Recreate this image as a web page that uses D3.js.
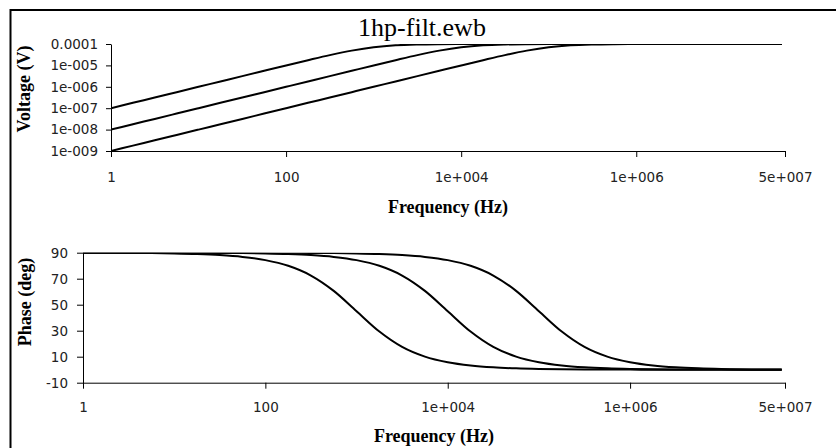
<!DOCTYPE html>
<html>
<head>
<meta charset="utf-8">
<script src="https://cdn.jsdelivr.net/npm/d3@7"></script>
<style>
  html, body { margin: 0; padding: 0; background: #fff; }
  svg { display: block; }
  .tick text { font-family: 'DejaVu Sans', sans-serif; font-size: 13.5px; fill: #222; }
  .axis-title { font-family: 'Liberation Serif', 'Times New Roman', serif; font-size: 18px; font-weight: bold; fill: #000; }
</style>
</head>
<body>
<svg id="chart" width="836" height="448"></svg>
<script>
// sample frequencies (Hz)
const frequencies = [
  1, 1.78, 3.16, 5.62, 10, 17.8, 31.6, 56.2, 100, 178, 316, 562, 1000, 1780, 3160, 5620,
  1e4, 1.78e4, 3.16e4, 5.62e4, 1e5, 1.78e5, 3.16e5, 5.62e5, 1e6, 1.78e6, 3.16e6, 5.62e6, 1e7, 4.6e7
];

// output voltage (V), three filters
const voltageA = [
  1e-7, 1.78e-7, 3.16e-7, 5.62e-7, 1e-6, 1.78e-6, 3.16e-6, 5.61e-6, 9.95e-6, 1.75e-5, 3.02e-5, 4.90e-5,
  7.07e-5, 8.72e-5, 9.53e-5, 9.85e-5, 9.95e-5, 9.98e-5, 1e-4, 1e-4, 1e-4, 1e-4, 1e-4, 1e-4,
  1e-4, 1e-4, 1e-4, 1e-4, 1e-4, 1e-4
];
const voltageB = [
  1e-8, 1.78e-8, 3.16e-8, 5.62e-8, 1e-7, 1.78e-7, 3.16e-7, 5.62e-7, 1e-6, 1.78e-6, 3.16e-6, 5.61e-6,
  9.95e-6, 1.75e-5, 3.02e-5, 4.90e-5, 7.07e-5, 8.72e-5, 9.53e-5, 9.85e-5, 9.95e-5, 9.98e-5, 1e-4, 1e-4,
  1e-4, 1e-4, 1e-4, 1e-4, 1e-4, 1e-4
];
const voltageC = [
  1e-9, 1.78e-9, 3.16e-9, 5.62e-9, 1e-8, 1.78e-8, 3.16e-8, 5.62e-8, 1e-7, 1.78e-7, 3.16e-7, 5.62e-7,
  1e-6, 1.78e-6, 3.16e-6, 5.61e-6, 9.95e-6, 1.75e-5, 3.02e-5, 4.90e-5, 7.07e-5, 8.72e-5, 9.53e-5, 9.85e-5,
  9.95e-5, 9.98e-5, 1e-4, 1e-4, 1e-4, 1e-4
];

// phase (deg)
const phaseA = [
  89.94, 89.90, 89.82, 89.68, 89.43, 88.98, 88.19, 86.78, 84.29, 79.92, 72.45, 60.64,
  45.0, 29.36, 17.55, 10.08, 5.71, 3.22, 1.81, 1.02, 0.57, 0.32, 0.18, 0.10,
  0.06, 0.03, 0.02, 0.01, 0.01, 0.0
];
const phaseB = [
  89.99, 89.99, 89.98, 89.97, 89.94, 89.90, 89.82, 89.68, 89.43, 88.98, 88.19, 86.78,
  84.29, 79.92, 72.45, 60.64, 45.0, 29.36, 17.55, 10.08, 5.71, 3.22, 1.81, 1.02,
  0.57, 0.32, 0.18, 0.10, 0.06, 0.01
];
const phaseC = [
  90.0, 90.0, 90.0, 90.0, 89.99, 89.99, 89.98, 89.97, 89.94, 89.90, 89.82, 89.68,
  89.43, 88.98, 88.19, 86.78, 84.29, 79.92, 72.45, 60.64, 45.0, 29.36, 17.55, 10.08,
  5.71, 3.22, 1.81, 1.02, 0.57, 0.12
];

// tick values + labels
const freqTicks = [1, 100, 1e4, 1e6, 5e7];
const freqTickLabels = ['1', '100', '1e+004', '1e+006', '5e+007'];
const voltTicks = [1e-4, 1e-5, 1e-6, 1e-7, 1e-8, 1e-9];
const voltTickLabels = ['0.0001', '1e-005', '1e-006', '1e-007', '1e-008', '1e-009'];
const phaseTicks = [90, 70, 50, 30, 10, -10];

const svg = d3.select('#chart');

// outer frame (only top/left edges visible)
svg.append('rect')
  .attr('x', 10.5).attr('y', 10)
  .attr('width', 900).attr('height', 500)
  .attr('fill', 'none').attr('stroke', '#000').attr('stroke-width', 2);

svg.append('text')
  .attr('x', 422).attr('y', 36)
  .attr('text-anchor', 'middle')
  .attr('font-family', "'Liberation Serif', 'Times New Roman', serif")
  .attr('font-size', 26)
  .text('1hp-filt.ewb');

function drawPanel(cfg) {
  const x = d3.scaleLog().domain([1, 5e7]).range([cfg.left, 785]);
  const y = cfg.y;

  const clipId = 'clip-' + cfg.id;
  svg.append('clipPath').attr('id', clipId)
    .append('rect')
    .attr('x', cfg.left).attr('y', y.range()[1])
    .attr('width', 785 - cfg.left + 4).attr('height', y.range()[0] - y.range()[1] + 4);

  const xAxis = svg.append('g')
    .attr('transform', `translate(0,${y.range()[0]})`)
    .call(d3.axisBottom(x)
      .tickValues(freqTicks)
      .tickFormat((d, i) => freqTickLabels[i])
      .tickSize(6).tickSizeOuter(0)
      .tickPadding(cfg.xPad));

  const yAxis = svg.append('g')
    .attr('transform', `translate(${cfg.left},0)`)
    .call(d3.axisLeft(y)
      .tickValues(cfg.yTicks)
      .tickFormat((d, i) => cfg.yLabels[i])
      .tickSize(cfg.yTickSize).tickSizeOuter(0)
      .tickPadding(cfg.yPad));

  [xAxis, yAxis].forEach(a => {
    a.select('.domain').attr('stroke', '#000');
    a.selectAll('.tick line').attr('stroke', '#000');
  });

  const line = d3.line()
    .x(d => x(d[0]))
    .y(d => y(d[1]))
    .curve(d3.curveMonotoneX);

  svg.append('g')
    .attr('clip-path', `url(#${clipId})`)
    .selectAll('path')
    .data(cfg.series)
    .join('path')
    .attr('d', s => line(frequencies.map((f, i) => [f, s[i]])))
    .attr('fill', 'none')
    .attr('stroke', '#000')
    .attr('stroke-width', 2);

  svg.append('text')
    .attr('class', 'axis-title')
    .attr('x', (cfg.left + 785) / 2).attr('y', cfg.xTitleY)
    .attr('text-anchor', 'middle')
    .text('Frequency (Hz)');

  svg.append('text')
    .attr('class', 'axis-title')
    .attr('transform', `translate(${cfg.yTitleX},${cfg.yTitleY}) rotate(-90)`)
    .attr('text-anchor', 'middle')
    .text(cfg.yTitle);
}

drawPanel({
  id: 'volt',
  left: 111,
  y: d3.scaleLog().domain([1e-9, 1e-4]).range([151, 44]),
  yTicks: voltTicks,
  yLabels: voltTickLabels,
  yTickSize: 5,
  yPad: 8,
  xPad: 15,
  series: [voltageA, voltageB, voltageC],
  xTitleY: 213,
  yTitle: 'Voltage (V)',
  yTitleX: 30,
  yTitleY: 89
});

drawPanel({
  id: 'phase',
  left: 83,
  y: d3.scaleLinear().domain([-10, 90]).range([382.7, 252.7]),
  yTicks: phaseTicks,
  yLabels: phaseTicks.map(String),
  yTickSize: 6,
  yPad: 9,
  xPad: 14,
  series: [phaseA, phaseB, phaseC],
  xTitleY: 442,
  yTitle: 'Phase (deg)',
  yTitleX: 31,
  yTitleY: 302
});
</script>
</body>
</html>
